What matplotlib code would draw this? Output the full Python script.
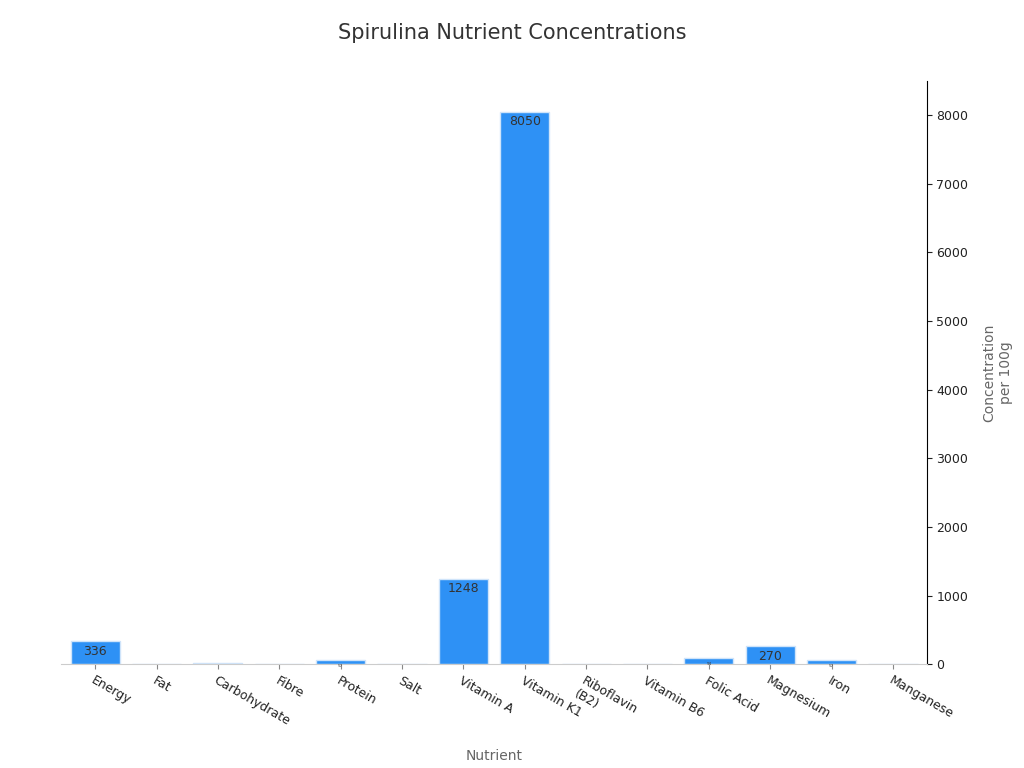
import matplotlib
matplotlib.use("Agg")
import matplotlib.pyplot as plt

categories = ["Energy", "Fat", "Carbohydrate", "Fibre", "Protein", "Salt", "Vitamin A",
              "Vitamin K1", "Riboflavin\n(B2)", "Vitamin B6", "Folic Acid", "Magnesium", "Iron", "Manganese"]
values = [336, 0.8, 24, 8, 57, 1, 1248, 8050, 3.7, 0.4, 94, 270, 57, 3]

fig, ax = plt.subplots(figsize=(10.24, 7.68), dpi=100)
fig.subplots_adjust(left=0.06, right=0.905, top=0.895, bottom=0.135)
x = range(len(categories))
bars = ax.bar(x, values, width=0.8, color="#2E91F5", edgecolor="#cfe4fa", linewidth=1)
for i, v in enumerate(values):
    if v >= 50:
        ax.text(i, v - 55, f"{v:g}", ha="center", va="top", fontsize=9 if v > 100 else 3, color="#333333")
ax.set_xticks(list(x))
ax.set_xticklabels(categories, rotation=-30, ha="left", rotation_mode="anchor", fontsize=9, color="#222222")
ax.yaxis.tick_right()
ax.yaxis.set_label_position("right")
ax.set_ylim(0, 8500)
ax.set_yticks(range(0, 8001, 1000))
ax.tick_params(axis="y", labelsize=9, colors="#222222")
ax.tick_params(axis="x", colors="#888888", labelcolor="#222222")
ax.set_xlim(-0.55, 13.55)
for s in ["top", "left"]:
    ax.spines[s].set_visible(False)
ax.spines["bottom"].set_color("#cccccc")
ax.set_xlabel("Nutrient", fontsize=10, color="#666666", labelpad=14)
ax.set_ylabel("Concentration\nper 100g", fontsize=10, color="#666666", labelpad=10)
fig.suptitle("Spirulina Nutrient Concentrations", fontsize=15, color="#333333", y=0.97)
fig.savefig("out.png")
